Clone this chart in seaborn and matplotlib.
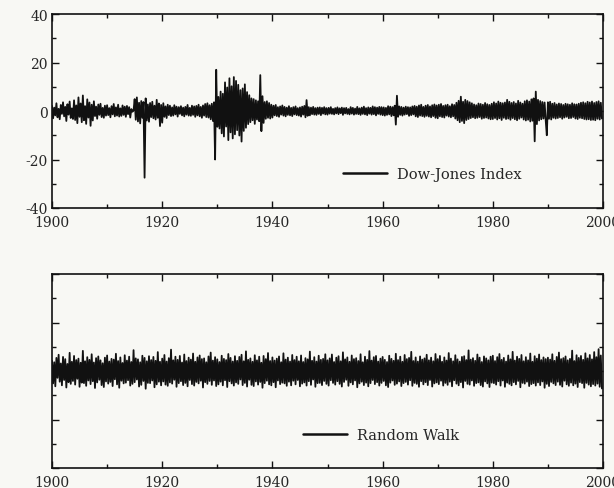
import numpy as np
import pandas as pd
import matplotlib
matplotlib.use("Agg")
import matplotlib.pyplot as plt
import seaborn as sns
from matplotlib.ticker import MultipleLocator

# ---- data (one value every 0.2 year, one list per decade) ----
start_year = 1900
step_years = 0.2

dj_1900s = [2.1, -3.0, 1.4, -1.8, 3.2, -2.6, 0.9, -3.4, 2.5, -1.2,
            3.6, -2.2, 1.7, -4.1, 2.8, -1.5, 3.9, -2.9, 1.1, -3.3,
            4.4, -3.7, 2.3, -5.0, 5.6, -2.4, 3.1, -4.6, 6.4, -3.8,
            2.0, -5.3, 4.8, -2.7, 3.5, -6.1, 2.6, -3.9, 4.0, -2.1,
            1.8, -3.2, 2.7, -1.6, 3.0, -2.5, 1.3, -2.8, 2.2, -1.9]
dj_1910s = [2.4, -1.7, 1.2, -2.6, 2.0, -1.4, 2.9, -2.2, 1.5, -1.9,
            2.6, -2.3, 1.1, -2.0, 2.3, -1.6, 1.8, -2.4, 2.1, -1.3,
            1.6, -2.7, 0.8, -0.3, 0.2, 4.9, -3.6, 5.6, -4.3, 3.4,
            -5.1, 4.1, -2.8, 3.7, -27.5, 5.2, -3.9, 2.7, -4.4, 3.3,
            -2.5, 3.8, -3.0, 2.2, -3.5, 4.6, -2.8, 3.1, -6.2, 2.5]
dj_1920s = [-4.8, 3.2, -2.4, 1.9, -2.9, 2.6, -1.7, 2.2, -2.1, 1.5,
            -1.9, 2.4, -1.4, 1.8, -2.3, 1.6, -1.2, 2.0, -1.8, 1.4,
            -2.2, 1.7, -1.5, 2.5, -1.9, 1.3, -2.0, 2.2, -1.6, 1.9,
            -2.4, 2.1, -1.8, 2.6, -2.2, 1.7, -2.8, 2.3, -1.9, 2.9,
            -2.5, 3.2, -2.7, 2.4, -3.4, 3.0, -4.1, 3.6, -20.0, 17.0]
dj_1930s = [-6.5, 5.8, -7.2, 8.0, -9.2, 7.1, -10.5, 11.8, -6.4, 9.7,
            -12.0, 13.5, -8.8, 10.2, -11.3, 14.0, -9.6, 12.4, -7.9, 10.8,
            -10.1, 8.6, -12.6, 9.3, -8.2, 11.0, -6.9, 7.8, -5.4, 6.5,
            -4.6, 5.2, -3.8, 4.9, -5.3, 4.4, -3.5, 4.0, -4.2, 14.8,
            -8.3, 6.1, -4.9, 3.7, -3.2, 4.0, -2.8, 3.3, -3.1, 2.6]
dj_1940s = [-2.7, 2.2, -1.8, 2.5, -2.1, 1.6, -2.4, 1.9, -1.5, 2.3,
            -1.9, 1.7, -2.2, 1.4, -1.6, 2.0, -1.8, 1.3, -2.1, 1.6,
            -1.4, 1.9, -1.7, 1.2, -1.9, 1.5, -2.3, 1.8, -1.5, 2.1,
            -2.6, 4.5, -2.0, 1.6, -1.8, 1.4, -1.3, 1.7, -1.5, 1.2,
            -1.6, 1.4, -1.2, 1.5, -1.7, 1.3, -1.1, 1.6, -1.4, 1.2]
dj_1950s = [-1.5, 1.3, -1.1, 1.6, -1.2, 0.9, -1.4, 1.2, -1.0, 1.5,
            -1.3, 1.1, -0.9, 1.4, -1.6, 1.2, -1.0, 1.3, -1.2, 0.8,
            -1.4, 1.6, -1.1, 1.3, -1.5, 1.0, -1.2, 1.7, -1.3, 1.1,
            -1.6, 1.4, -1.2, 1.8, -1.4, 1.2, -1.7, 1.5, -1.1, 1.3,
            -1.5, 1.9, -1.3, 1.6, -1.8, 1.4, -1.2, 1.7, -1.5, 1.6]
dj_1960s = [-1.7, 1.5, -1.9, 1.3, -1.6, 2.0, -1.4, 1.8, -2.1, 1.6,
            -1.8, 2.2, -5.6, 6.3, -2.4, 1.9, -1.6, 1.7, -1.9, 1.4,
            -1.5, 1.8, -1.3, 1.6, -2.0, 1.5, -1.7, 1.9, -1.4, 2.1,
            -2.2, 1.8, -2.5, 2.3, -1.9, 2.6, -2.1, 1.7, -2.4, 2.2,
            -2.0, 2.5, -2.3, 1.9, -2.6, 2.4, -2.1, 2.7, -2.8, 2.3]
dj_1970s = [-3.0, 2.6, -2.2, 2.9, -2.5, 2.1, -2.7, 2.4, -1.9, 2.6,
            -2.3, 2.0, -2.6, 2.8, -2.2, 2.5, -3.1, 3.4, -3.8, 4.2,
            -4.6, 5.9, -4.1, 3.8, -5.0, 4.6, -3.7, 4.1, -3.3, 3.6,
            -2.9, 3.2, -2.6, 2.7, -3.0, 2.4, -2.8, 3.1, -2.5, 2.9,
            -3.2, 2.6, -2.9, 3.3, -2.7, 2.8, -3.1, 2.5, -3.4, 3.0]
dj_1980s = [-3.3, 3.6, -2.9, 3.1, -3.5, 3.9, -3.0, 3.4, -3.7, 3.2,
            -2.8, 3.5, -3.3, 4.6, -3.1, 3.8, -3.6, 3.3, -2.9, 3.7,
            -3.4, 3.1, -3.8, 4.2, -3.2, 3.5, -2.7, 3.0, -3.5, 4.0,
            -3.9, 4.4, -3.6, 3.9, -4.3, 4.8, -4.0, 5.2, -12.5, 8.0,
            -5.4, 4.6, -3.9, 4.1, -3.4, 3.7, -3.1, 3.5, -3.8, -10.0]
dj_1990s = [3.6, -3.2, 3.8, -3.5, 3.0, -2.8, 3.3, -3.1, 2.7, -2.9,
            3.1, -2.6, 2.9, -3.2, 2.5, -2.7, 3.0, -2.4, 2.8, -3.0,
            2.6, -2.9, 3.2, -2.5, 2.8, -3.1, 2.7, -3.3, 3.0, -2.8,
            3.4, -3.0, 3.6, -3.3, 3.2, -3.5, 3.8, -3.4, 3.5, -3.7,
            3.9, -3.6, 3.3, -3.8, 3.7, -3.2, 4.0, -3.5, 3.4, -3.1]

rw_1900s = [4.2, -5.1, 3.6, -6.3, 5.4, -2.8, 6.7, -4.4, 3.1, -5.9,
            5.8, -3.7, 4.9, -6.8, 2.9, -4.6, 7.5, -5.3, 3.8, -4.1,
            6.2, -5.6, 4.5, -3.2, 5.1, -6.5, 3.4, -4.8, 8.3, -5.0,
            4.0, -6.1, 5.7, -3.9, 4.6, -5.4, 6.9, -4.2, 3.5, -7.0,
            5.3, -4.7, 6.0, -3.6, 4.4, -5.8, 3.2, -6.6, 5.5, -4.3]
rw_1910s = [6.4, -5.2, 3.9, -4.5, 5.0, -6.2, 4.7, -3.4, 7.1, -5.5,
            4.1, -6.9, 5.6, -4.0, 3.3, -5.1, 6.5, -4.8, 4.3, -3.8,
            5.9, -6.0, 3.7, -5.3, 8.6, -4.6, 5.2, -3.5, 4.8, -6.4,
            3.6, -5.7, 6.3, -4.1, 5.4, -7.3, 4.0, -4.9, 6.1, -5.0,
            4.5, -3.9, 5.8, -6.7, 4.2, -5.5, 7.8, -4.4, 3.8, -5.9]
rw_1920s = [5.1, -4.3, 6.6, -5.6, 3.9, -6.1, 5.3, -4.7, 8.8, -5.2,
            4.4, -3.6, 5.9, -6.5, 4.6, -5.0, 6.2, -4.2, 3.5, -5.8,
            6.8, -4.9, 4.1, -6.3, 5.5, -3.7, 4.7, -5.4, 7.2, -6.0,
            3.8, -4.5, 5.6, -5.1, 6.4, -4.0, 4.9, -6.8, 5.2, -4.6,
            3.6, -5.3, 6.0, -4.1, 7.6, -5.7, 4.3, -3.9, 5.7, -6.2]
rw_1930s = [4.8, -5.5, 3.7, -4.4, 6.3, -5.9, 5.0, -3.8, 4.5, -6.6,
            7.0, -4.2, 5.4, -5.1, 3.9, -6.0, 6.1, -4.7, 4.2, -5.3,
            5.8, -3.5, 6.7, -5.8, 4.0, -4.9, 8.1, -6.4, 4.6, -3.6,
            5.2, -5.7, 3.8, -6.2, 6.5, -4.3, 4.4, -5.6, 5.9, -4.5,
            3.4, -6.9, 6.2, -5.0, 4.9, -4.0, 7.4, -5.5, 4.1, -5.9]
rw_1940s = [5.6, -4.6, 4.3, -6.7, 5.1, -3.9, 6.0, -5.4, 3.6, -4.8,
            7.3, -5.1, 4.7, -6.1, 5.5, -4.4, 3.9, -5.9, 6.6, -4.0,
            4.5, -5.5, 5.9, -3.7, 4.0, -6.3, 6.4, -5.2, 3.7, -4.7,
            5.3, -6.0, 4.8, -4.2, 8.0, -5.7, 4.2, -3.5, 5.7, -6.5,
            3.9, -5.0, 6.3, -4.9, 4.6, -5.8, 5.0, -4.1, 6.9, -5.3]
rw_1950s = [4.4, -6.0, 5.2, -3.8, 6.8, -4.9, 3.7, -5.6, 5.5, -4.2,
            6.1, -5.3, 4.0, -6.4, 7.7, -4.5, 4.8, -3.6, 5.6, -6.1,
            3.8, -4.7, 6.4, -5.5, 4.9, -3.9, 5.3, -6.7, 4.1, -5.1,
            6.9, -4.4, 3.6, -5.8, 5.9, -4.8, 4.6, -6.3, 8.2, -5.0,
            4.3, -3.7, 5.7, -5.4, 6.2, -4.6, 3.9, -6.0, 5.1, -4.9]
rw_1960s = [5.8, -4.1, 4.6, -5.9, 3.7, -6.6, 6.3, -4.8, 5.0, -3.9,
            4.2, -5.7, 7.1, -5.2, 4.5, -4.3, 5.9, -6.2, 3.8, -5.0,
            6.6, -4.5, 4.9, -5.6, 5.4, -3.8, 7.9, -6.1, 4.1, -4.9,
            5.6, -5.3, 3.9, -6.5, 6.0, -4.2, 4.7, -5.5, 5.2, -4.6,
            6.7, -5.8, 4.4, -3.7, 5.5, -6.4, 4.0, -5.1, 7.0, -4.7]
rw_1970s = [4.9, -5.4, 6.2, -4.0, 3.8, -6.0, 5.6, -4.9, 4.3, -5.7,
            7.4, -4.4, 5.1, -6.3, 4.0, -3.8, 6.5, -5.2, 4.8, -5.9,
            3.9, -4.6, 5.8, -6.8, 6.1, -4.1, 4.5, -5.3, 8.5, -5.6,
            4.7, -3.9, 5.3, -6.1, 4.2, -5.0, 6.8, -4.7, 5.5, -5.8,
            3.7, -6.4, 6.0, -4.3, 5.2, -5.1, 4.4, -6.6, 5.9, -4.8]
rw_1980s = [6.3, -5.0, 4.1, -5.6, 5.7, -4.2, 7.0, -6.0, 4.6, -3.9,
            5.4, -6.5, 3.9, -4.8, 6.4, -5.3, 4.8, -5.9, 7.9, -4.6,
            4.3, -5.5, 5.9, -4.1, 5.0, -6.7, 6.6, -4.9, 4.0, -5.2,
            5.7, -4.4, 4.4, -6.2, 7.2, -5.4, 3.8, -5.0, 6.1, -6.0,
            5.1, -4.7, 6.8, -5.8, 4.5, -4.3, 5.6, -6.9, 4.9, -5.3]
rw_1990s = [5.5, -6.2, 4.7, -4.5, 6.9, -5.1, 4.2, -5.8, 5.8, -4.4,
            7.6, -5.7, 4.9, -6.4, 5.3, -4.0, 6.0, -5.5, 4.4, -6.1,
            5.0, -4.8, 8.4, -5.9, 4.1, -5.2, 6.5, -6.6, 5.4, -4.6,
            6.2, -5.0, 4.6, -6.9, 7.3, -4.9, 5.2, -5.6, 6.6, -6.3,
            4.8, -5.4, 7.8, -6.0, 5.7, -5.2, 9.0, -6.5, 6.4, -7.2]

x_ticks = [1900, 1920, 1940, 1960, 1980, 2000]
y_ticks = [-40, -20, 0, 20, 40]
legend_labels = ["Dow-Jones Index", "Random Walk"]

dow_jones = (dj_1900s + dj_1910s + dj_1920s + dj_1930s + dj_1940s +
             dj_1950s + dj_1960s + dj_1970s + dj_1980s + dj_1990s)
random_walk = (rw_1900s + rw_1910s + rw_1920s + rw_1930s + rw_1940s +
               rw_1950s + rw_1960s + rw_1970s + rw_1980s + rw_1990s)

years_dj = start_year + step_years * np.arange(len(dow_jones))
years_rw = start_year + step_years * np.arange(len(random_walk))
df_dj = pd.DataFrame({"year": years_dj, "value": dow_jones})
df_rw = pd.DataFrame({"year": years_rw, "value": random_walk})

# ---- style ----
sns.set_style("ticks")
plt.rcParams["font.family"] = ["DejaVu Serif"]
plt.rcParams["font.size"] = 10

bg = "#f8f8f4"
fig = plt.figure(figsize=(6.14, 4.89), dpi=100, facecolor=bg)
ax1 = fig.add_axes([0.0847, 0.5726, 0.8974, 0.3967], facecolor=bg)
ax2 = fig.add_axes([0.0847, 0.0409, 0.8974, 0.3967], facecolor=bg)

sns.lineplot(data=df_dj, x="year", y="value", ax=ax1, color="#111111",
             linewidth=1.3, estimator=None, label=legend_labels[0])
sns.lineplot(data=df_rw, x="year", y="value", ax=ax2, color="#111111",
             linewidth=1.3, estimator=None, label=legend_labels[1])

for ax in (ax1, ax2):
    ax.set_xlim(1900, 2000)
    ax.set_ylim(-40, 40)
    ax.set_xlabel("")
    ax.set_ylabel("")
    ax.set_xticks(x_ticks)
    ax.set_xticklabels([str(t) for t in x_ticks])
    ax.xaxis.set_minor_locator(MultipleLocator(10))
    ax.yaxis.set_minor_locator(MultipleLocator(10))
    ax.tick_params(which="both", direction="in", top=True, right=True,
                   color="#111111", width=1.0, labelsize=10)
    ax.tick_params(which="major", length=5)
    ax.tick_params(which="minor", length=3)
    ax.tick_params(axis="x", which="major", pad=5)
    ax.tick_params(axis="y", which="major", pad=3)
    for s in ax.spines.values():
        s.set_linewidth(1.2)
        s.set_color("#111111")
        s.set_visible(True)

ax1.set_yticks(y_ticks)
ax1.set_yticklabels([str(t) for t in y_ticks])
ax2.set_yticks(y_ticks)
ax2.set_yticklabels([])

for ax, anchor in ((ax1, (0.528, 0.175)), (ax2, (0.456, 0.17))):
    leg = ax.legend(loc="center left", bbox_to_anchor=anchor, frameon=False,
                    handlelength=3.0, handletextpad=0.7, borderpad=0,
                    borderaxespad=0, fontsize=10.5)
    for line in leg.get_lines():
        line.set_linewidth(1.8)

fig.savefig("out.png", dpi=100, facecolor=bg)
